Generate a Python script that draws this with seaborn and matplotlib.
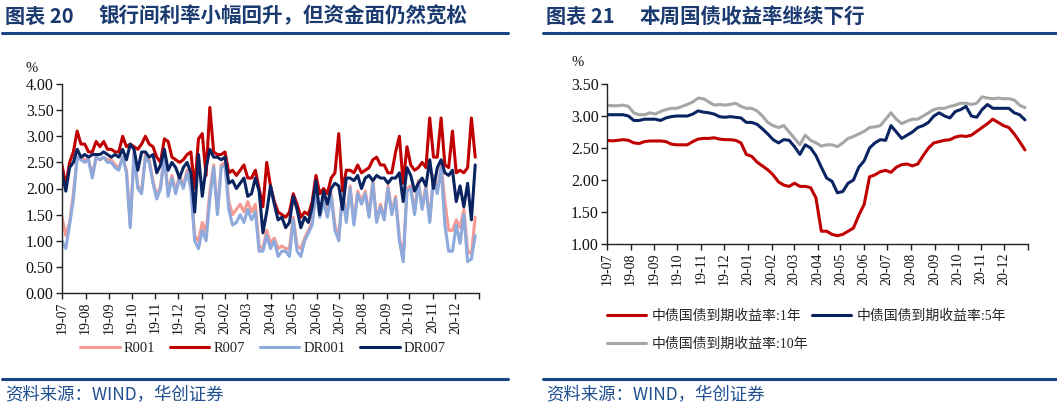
import pandas as pd
import matplotlib
matplotlib.use('Agg')
import matplotlib.pyplot as plt
from matplotlib.lines import Line2D
import seaborn as sns

# Left panel: interbank rates (%), one reading every 5 days from 2019-07-01
r001 = [1.45, 1.10, 1.35, 1.90, 2.60, 2.60, 2.55, 2.55, 2.25, 2.60,
        2.55, 2.60, 2.55, 2.55, 2.45, 2.40, 2.60, 2.35, 1.30, 2.70,
        2.05, 1.95, 2.65, 2.55, 2.15, 1.85, 2.05, 2.65, 1.90, 2.25,
        1.95, 2.25, 2.05, 2.35, 2.05, 1.10, 1.00, 1.35, 1.15, 1.95,
        2.45, 1.55, 2.45, 2.50, 1.75, 1.50, 1.60, 1.70, 1.55, 1.75,
        1.55, 1.70, 0.90, 0.85, 1.20, 0.95, 1.05, 0.85, 0.90, 0.85,
        0.85, 1.45, 0.90, 0.85, 1.05, 1.20, 1.35, 2.00, 1.50, 1.80,
        1.50, 1.90, 1.30, 1.05, 1.95, 1.40, 2.05, 1.35, 1.95, 1.75,
        1.95, 1.50, 2.15, 1.40, 1.70, 1.45, 2.05, 1.55, 1.85, 1.05,
        0.65, 2.00, 2.05, 1.55, 2.15, 1.65, 2.05, 1.40, 2.25, 1.95,
        2.45, 1.75, 1.20, 1.20, 1.40, 1.25, 1.60, 0.80, 0.75, 1.45]
r007 = [2.45, 2.05, 2.50, 2.70, 3.10, 2.85, 2.85, 2.70, 2.70, 2.90,
        2.80, 2.90, 2.75, 2.75, 2.70, 2.70, 3.00, 2.80, 2.85, 2.80,
        2.75, 2.85, 3.00, 2.85, 2.80, 2.60, 2.50, 2.95, 2.90, 2.60,
        2.55, 2.50, 2.55, 2.65, 2.70, 2.00, 2.95, 3.05, 2.25, 3.55,
        2.70, 2.65, 2.65, 2.70, 2.30, 2.35, 2.25, 2.35, 2.45, 2.20,
        2.20, 2.35, 2.00, 1.65, 2.50, 2.05, 1.75, 1.55, 1.50, 1.45,
        1.55, 1.90, 1.70, 1.45, 1.55, 1.50, 1.75, 2.25, 1.90, 2.00,
        1.90, 2.20, 2.30, 3.05, 1.95, 2.35, 2.35, 2.30, 2.45, 2.30,
        2.35, 2.40, 2.55, 2.60, 2.45, 2.45, 2.30, 2.30, 2.70, 3.00,
        2.10, 2.80, 2.45, 2.35, 2.40, 2.50, 2.40, 3.35, 2.60, 2.60,
        3.35, 2.45, 2.40, 3.10, 2.30, 2.35, 2.30, 2.40, 3.35, 2.60]
dr001 = [1.00, 0.85, 1.30, 1.80, 2.60, 2.55, 2.50, 2.55, 2.20, 2.60,
         2.55, 2.60, 2.50, 2.50, 2.40, 2.35, 2.60, 2.30, 1.25, 2.65,
         2.00, 1.90, 2.60, 2.50, 2.10, 1.80, 2.00, 2.60, 1.85, 2.20,
         1.90, 2.20, 2.00, 2.30, 2.00, 1.00, 0.85, 1.20, 1.00, 1.80,
         2.40, 1.50, 2.40, 2.45, 1.60, 1.30, 1.35, 1.50, 1.35, 1.60,
         1.40, 1.55, 0.80, 0.80, 1.10, 0.85, 1.00, 0.70, 0.80, 0.80,
         0.70, 1.40, 0.80, 0.70, 1.00, 1.15, 1.30, 1.95, 1.45, 1.75,
         1.45, 1.85, 1.20, 1.00, 1.90, 1.35, 2.00, 1.30, 1.90, 1.70,
         1.90, 1.45, 2.10, 1.35, 1.65, 1.40, 2.00, 1.50, 1.80, 1.00,
         0.60, 1.95, 2.00, 1.50, 2.10, 1.60, 2.00, 1.35, 2.20, 1.90,
         2.40, 1.30, 0.80, 0.80, 1.30, 0.95, 1.50, 0.60, 0.65, 1.10]
dr007 = [2.30, 1.95, 2.40, 2.50, 2.75, 2.60, 2.65, 2.60, 2.65, 2.65,
         2.65, 2.70, 2.65, 2.60, 2.65, 2.60, 2.75, 2.55, 2.85, 2.75,
         2.35, 2.70, 2.70, 2.60, 2.65, 2.30, 2.45, 2.75, 2.35, 2.50,
         2.40, 2.20, 2.40, 2.50, 2.30, 1.55, 2.65, 1.85, 2.40, 2.75,
         2.60, 2.60, 2.55, 2.60, 2.10, 2.15, 2.00, 2.10, 2.20, 1.85,
         1.90, 2.20, 1.95, 1.15, 1.55, 2.05, 1.70, 1.40, 1.45, 1.25,
         1.35, 1.85, 1.60, 1.25, 1.45, 1.35, 1.65, 2.15, 1.50, 1.95,
         1.70, 2.00, 2.10, 2.05, 1.60, 2.20, 2.20, 2.15, 2.25, 2.00,
         2.20, 2.25, 2.15, 2.25, 2.20, 2.20, 2.10, 2.20, 2.20, 2.30,
         1.75, 2.40, 2.25, 1.95, 2.10, 2.20, 2.05, 2.55, 2.00, 2.40,
         2.55, 2.30, 2.25, 2.35, 1.75, 2.05, 1.65, 2.10, 1.40, 2.45]

# Right panel: China bond yields (%), weekly from 2019-07-01
cgb_1y = [2.62, 2.61, 2.62, 2.63, 2.62, 2.58, 2.57, 2.60, 2.61, 2.61,
          2.61, 2.60, 2.56, 2.55, 2.55, 2.55, 2.60, 2.64, 2.65, 2.65,
          2.66, 2.64, 2.63, 2.63, 2.62, 2.58, 2.40, 2.37, 2.28, 2.22,
          2.16, 2.08, 1.97, 1.92, 1.90, 1.95, 1.90, 1.90, 1.88, 1.72,
          1.20, 1.20, 1.15, 1.13, 1.15, 1.20, 1.25, 1.45, 1.62, 2.05,
          2.08, 2.13, 2.15, 2.12, 2.20, 2.24, 2.25, 2.22, 2.25, 2.38,
          2.50, 2.58, 2.60, 2.62, 2.63, 2.67, 2.69, 2.68, 2.70, 2.76,
          2.82, 2.88, 2.95, 2.90, 2.85, 2.82, 2.72, 2.60, 2.47]
cgb_5y = [3.02, 3.02, 3.02, 3.02, 3.00, 2.93, 2.93, 2.95, 2.95, 2.95,
          2.93, 2.97, 2.99, 3.00, 3.00, 3.00, 3.03, 3.08, 3.06, 3.05,
          3.03, 2.99, 2.98, 2.99, 2.98, 2.97, 2.90, 2.90, 2.87, 2.80,
          2.72, 2.63, 2.58, 2.63, 2.62, 2.52, 2.40, 2.55, 2.50, 2.38,
          2.20, 2.03, 1.98, 1.80, 1.82, 1.95, 2.00, 2.20, 2.30, 2.50,
          2.58, 2.63, 2.62, 2.85, 2.75, 2.65, 2.70, 2.75, 2.82, 2.85,
          2.90, 3.00, 3.05, 3.00, 2.97, 3.07, 3.10, 3.15, 3.00, 2.98,
          3.10, 3.18, 3.12, 3.12, 3.12, 3.12, 3.05, 3.02, 2.94]
cgb_10y = [3.17, 3.16, 3.16, 3.17, 3.15, 3.05, 3.02, 3.02, 3.05, 3.03,
           3.07, 3.10, 3.12, 3.12, 3.15, 3.18, 3.22, 3.28, 3.27, 3.22,
           3.17, 3.18, 3.17, 3.18, 3.20, 3.15, 3.12, 3.12, 3.08, 3.00,
           2.90, 2.85, 2.82, 2.85, 2.75, 2.65, 2.55, 2.70, 2.62, 2.58,
           2.53, 2.55, 2.55, 2.52, 2.58, 2.65, 2.68, 2.72, 2.76, 2.82,
           2.83, 2.85, 2.95, 3.05, 2.95, 2.88, 2.92, 2.95, 2.95, 3.00,
           3.05, 3.10, 3.12, 3.12, 3.15, 3.17, 3.20, 3.20, 3.18, 3.20,
           3.30, 3.28, 3.27, 3.28, 3.27, 3.27, 3.25, 3.17, 3.13]

month_labels = ['19-07', '19-08', '19-09', '19-10', '19-11', '19-12',
                '20-01', '20-02', '20-03', '20-04', '20-05', '20-06',
                '20-07', '20-08', '20-09', '20-10', '20-11', '20-12', '']

left_names = ['R001', 'R007', 'DR001', 'DR007']
left_colors = ['#f79a94', '#c00000', '#8eaadc', '#0a2462']
right_names = ['中债国债到期收益率:1年', '中债国债到期收益率:5年', '中债国债到期收益率:10年']
right_colors = ['#c00000', '#0a2462', '#a6a6a6']

left_dates = pd.date_range('2019-07-01', periods=len(r007), freq='5D')
right_dates = pd.date_range('2019-07-01', periods=len(cgb_1y), freq='7D')
month_ticks = pd.date_range('2019-07-01', periods=len(month_labels), freq='MS')

left_df = pd.DataFrame({'date': left_dates, 'R001': r001, 'R007': r007,
                        'DR001': dr001, 'DR007': dr007})
left_df = left_df.melt('date', var_name='series', value_name='rate')
right_df = pd.DataFrame({'date': right_dates, right_names[0]: cgb_1y,
                         right_names[1]: cgb_5y, right_names[2]: cgb_10y})
right_df = right_df.melt('date', var_name='series', value_name='rate')

sns.set_theme(style='white')
plt.rcParams['font.family'] = ['Liberation Serif', 'Noto Sans CJK SC']
plt.rcParams['axes.unicode_minus'] = False

W, H = 1057, 409
fig = plt.figure(figsize=(W / 100, H / 100), dpi=100)
ax1 = fig.add_axes([62 / W, 1 - 293 / H, 417 / W, 209 / H])
ax2 = fig.add_axes([607 / W, 1 - 244 / H, 421 / W, 160 / H])

sns.lineplot(data=left_df, x='date', y='rate', hue='series', hue_order=left_names,
             palette=left_colors, linewidth=2.2, ax=ax1, legend=False)
sns.lineplot(data=right_df, x='date', y='rate', hue='series', hue_order=right_names,
             palette=right_colors, linewidth=2.2, ax=ax2, legend=False)

for ax, lo, hi in [(ax1, 0.0, 4.0), (ax2, 1.0, 3.5)]:
    n = int(round((hi - lo) / 0.5)) + 1
    ax.set_ylim(lo, hi)
    ax.set_yticks([lo + 0.5 * k for k in range(n)])
    ax.set_yticklabels([f'{lo + 0.5 * k:.2f}' for k in range(n)])
    ax.set_xlim(month_ticks[0], month_ticks[-1])
    ax.set_xticks(month_ticks)
    ax.set_xticklabels(month_labels, rotation=90)
    ax.set_xlabel('')
    ax.set_ylabel('')
    for side in ['top', 'right']:
        ax.spines[side].set_visible(False)
    for side in ['left', 'bottom']:
        ax.spines[side].set_color('#222222')
        ax.spines[side].set_linewidth(1.0)
    ax.tick_params(axis='both', which='both', direction='out', length=4, width=1,
                   color='#222222', labelcolor='#111111',
                   bottom=True, left=True, pad=2)
    ax.tick_params(axis='x', labelsize=10)
    ax.tick_params(axis='y', labelsize=11.5)

fig.text(32 / W, 1 - 68 / H, '%', fontsize=10.5, ha='center', va='center', color='#111111')
fig.text(578 / W, 1 - 63 / H, '%', fontsize=10.5, ha='center', va='center', color='#111111')

# legends (right one fills column-wise, so 10Y goes second to land on row 2)
h1 = ax1.get_lines()[:4]
fig.legend(h1, left_names, loc='center', bbox_to_anchor=(263 / W, 1 - 348 / H),
           ncol=4, frameon=False, fontsize=10.5, handlelength=2.7, handletextpad=0.3,
           columnspacing=1.0, borderpad=0)
h2 = ax2.get_lines()[:3]
order = [0, 2, 1]
fig.legend([h2[i] for i in order], [right_names[i] for i in order],
           loc='upper left', bbox_to_anchor=(600 / W, 1 - 303 / H),
           ncol=2, frameon=False, fontsize=10, handlelength=2.8, handletextpad=0.4,
           columnspacing=0.3, borderpad=0, labelspacing=1.0)

# titles, rules and source notes
title_color = '#1a3a70'
cjk = ['Noto Sans CJK SC']
for x0, num, txt in [(5, '图表 20', '银行间利率小幅回升，但资金面仍然宽松'),
                     (546, '图表 21', '本周国债收益率继续下行')]:
    fig.text(x0 / W, 1 - 16 / H, num, fontsize=14.5, fontweight='bold',
             family=cjk, color=title_color, ha='left', va='center')
    fig.text((x0 + 93) / W, 1 - 16 / H, txt, fontsize=14.8, fontweight='bold',
             family=cjk, color=title_color, ha='left', va='center')
    fig.text(x0 / W, 1 - 395 / H, '资料来源：WIND，华创证券', fontsize=12.5,
             family=cjk, color='#1f4f91', ha='left', va='center')

rule_color = '#1c4482'
for x0, x1 in [(2, 508), (543, 1057)]:
    for y in [33, 379]:
        fig.add_artist(Line2D([x0 / W, x1 / W], [1 - y / H, 1 - y / H],
                              transform=fig.transFigure, color=rule_color, lw=2.2))

fig.savefig('out.png', dpi=100)
